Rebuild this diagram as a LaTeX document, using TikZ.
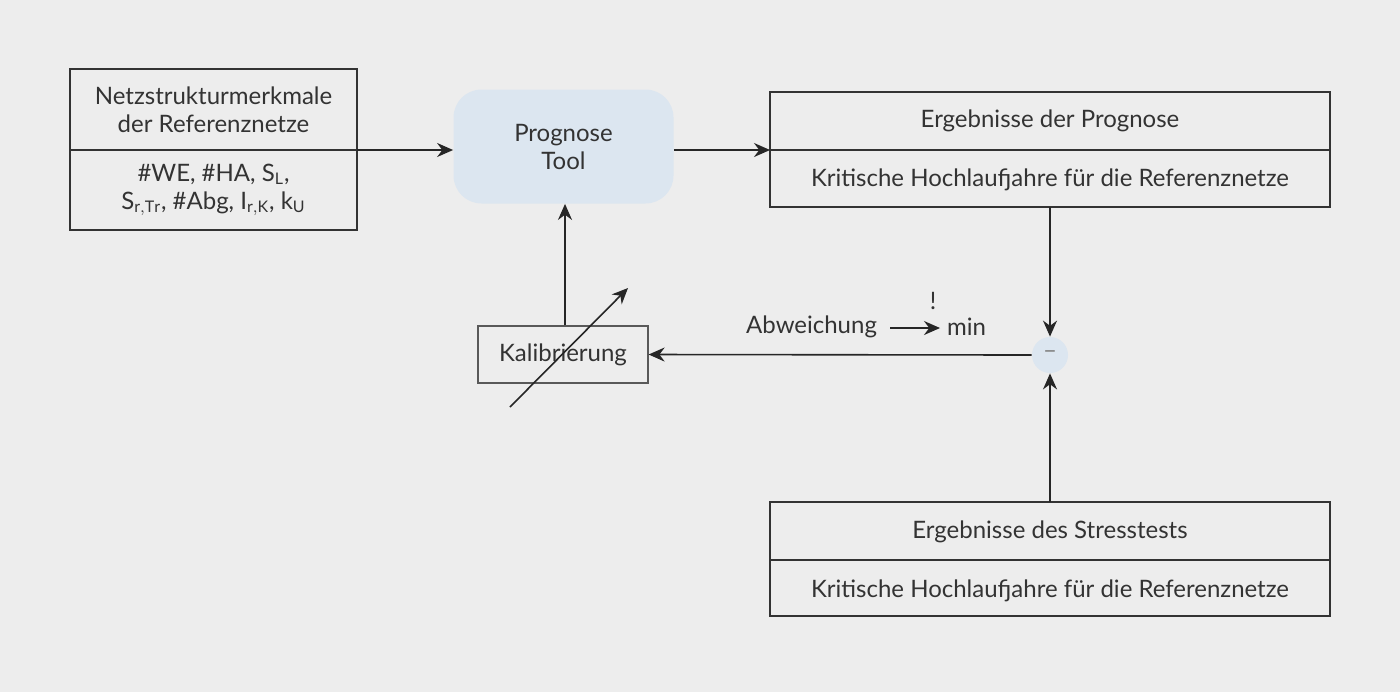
\documentclass[tikz,border=0pt]{standalone}
\usepackage{fontspec}
\setmainfont{Lato}
\usetikzlibrary{arrows.meta}
\definecolor{bg}{HTML}{EDEDED}
\definecolor{lb}{HTML}{DCE6F0}
\definecolor{tx}{HTML}{333333}
\begin{document}
\begin{tikzpicture}[x=0.5pt,y=-0.5pt,
  every node/.style={text=tx,font=\fontsize{12}{14}\selectfont},
  conn/.style={draw=black!85,line width=0.8pt,-{Stealth[length=8pt,width=7pt]}},
  box/.style={draw=black!80,line width=0.8pt}]
\fill[bg] (0,0) rectangle (1400,692);
\useasboundingbox (0,0) rectangle (1400,692);
% left box
\draw[box] (70,69) rectangle (357,230);
\draw[box] (70,150) -- (357,150);
\node[align=center] (netz) at (213.5,110) {Netzstrukturmerkmale\\der Referenznetze};
\node[align=center] (merk) at (213.5,190) {\#WE, \#HA, S$_{\mathrm{L}}$,\\S$_{\mathrm{r,Tr}}$, \#Abg, I$_{\mathrm{r,K}}$, k$_{\mathrm{U}}$};
\coordinate (netzR) at (357,150);
% tool
\node[fill=lb,rounded corners=14pt,minimum width=110pt,minimum height=57pt,align=center] (tool) at (563.5,146.5) {Prognose\\Tool};
% right top box
\draw[box] (770,92) rectangle (1330,207);
\draw[box] (770,150) -- (1330,150);
\node (ep) at (1050,121) {Ergebnisse der Prognose};
\node (kp) at (1050,180) {Kritische Hochlaufjahre für die Referenznetze};
\coordinate (progL) at (770,150);
\coordinate (progB) at (1050,207);
% bottom box
\draw[box] (770,502) rectangle (1330,616);
\draw[box] (770,560) -- (1330,560);
\node (es) at (1050,532) {Ergebnisse des Stresstests};
\node (ks) at (1050,591) {Kritische Hochlaufjahre für die Referenznetze};
\coordinate (stressT) at (1050,502);
% circle
\node[circle,fill=lb,minimum size=18pt,inner sep=0pt,text=black!50] (diff) at (1050,355) {–};
% kalibrierung
\node[draw=black!65,line width=0.6pt,minimum width=85pt,minimum height=28.5pt] (kal) at (563,354.5) {Kalibrierung};
% connectors
\draw[conn] (netzR) -- (netzR -| tool.west);
\draw[conn] (tool.east |- progL) -- (progL);
\draw[conn] (progB) -- (diff.north);
\draw[conn] (stressT) -- (diff.south);
\draw[conn] (diff.west) -- (kal.east);
\draw[conn] (kal.north -| 565,0) -- (tool.south -| 565,0);
\coordinate (d1) at (510,407);
\coordinate (d2) at (628,288);
\draw[conn] (d1) -- (d2);
% label
\node[anchor=east] (abw) at (884,327) {Abweichung};
\node[anchor=west] (mn) at (940,327) {min};
\node (ex) at (933,301) {!};
\draw[conn] (abw.east) ++(6,1) coordinate (a1) -- (a1 -| mn.west);
\end{tikzpicture}
\end{document}
